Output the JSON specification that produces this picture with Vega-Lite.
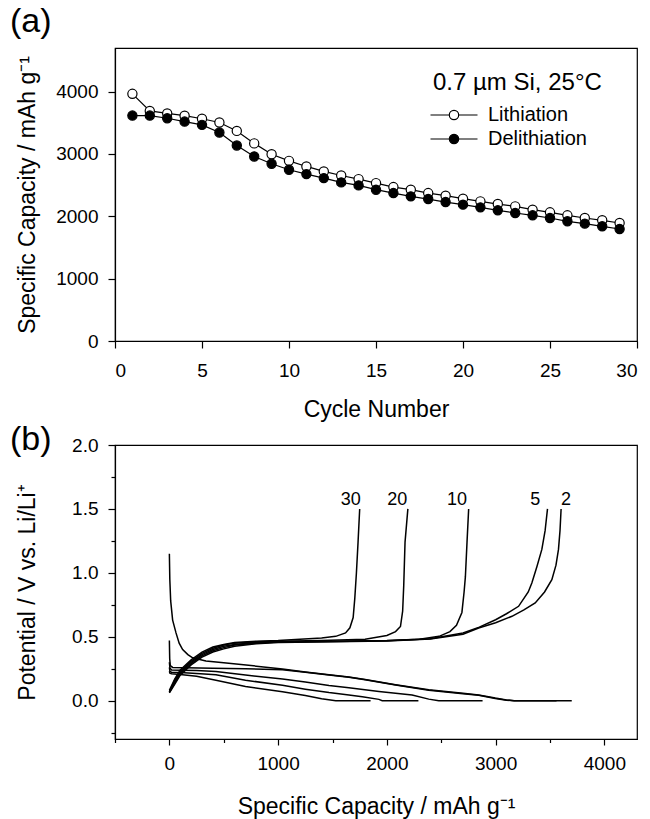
{
  "$schema": "https://vega.github.io/schema/vega-lite/v6.json",
  "padding": {"left": 9, "top": 4, "right": 5, "bottom": 0},
  "spacing": 0,
  "config": {
    "font": "Liberation Sans",
    "view": {"stroke": "black", "strokeWidth": 1.2},
    "axis": {"domainColor": "black", "domainWidth": 1.2, "tickColor": "black", "tickWidth": 1.2, "labelColor": "black", "titleColor": "black", "labelFontSize": 19, "titleFontSize": 23, "titleFontWeight": "normal", "grid": false, "labelFont": "Liberation Sans", "titleFont": "Liberation Sans"},
    "title": {"font": "Liberation Sans", "color": "black"}
  },
  "datasets": {
    "cycles": [
      {"cycle": 1, "series": "Lithiation", "cap": 3965}, {"cycle": 2, "series": "Lithiation", "cap": 3690}, {"cycle": 3, "series": "Lithiation", "cap": 3650}, {"cycle": 4, "series": "Lithiation", "cap": 3615}, {"cycle": 5, "series": "Lithiation", "cap": 3565}, {"cycle": 6, "series": "Lithiation", "cap": 3505}, {"cycle": 7, "series": "Lithiation", "cap": 3370}, {"cycle": 8, "series": "Lithiation", "cap": 3170}, {"cycle": 9, "series": "Lithiation", "cap": 2995}, {"cycle": 10, "series": "Lithiation", "cap": 2890}, {"cycle": 11, "series": "Lithiation", "cap": 2800}, {"cycle": 12, "series": "Lithiation", "cap": 2720}, {"cycle": 13, "series": "Lithiation", "cap": 2655}, {"cycle": 14, "series": "Lithiation", "cap": 2597}, {"cycle": 15, "series": "Lithiation", "cap": 2533}, {"cycle": 16, "series": "Lithiation", "cap": 2469}, {"cycle": 17, "series": "Lithiation", "cap": 2427}, {"cycle": 18, "series": "Lithiation", "cap": 2373}, {"cycle": 19, "series": "Lithiation", "cap": 2331}, {"cycle": 20, "series": "Lithiation", "cap": 2283}, {"cycle": 21, "series": "Lithiation", "cap": 2240}, {"cycle": 22, "series": "Lithiation", "cap": 2197}, {"cycle": 23, "series": "Lithiation", "cap": 2160}, {"cycle": 24, "series": "Lithiation", "cap": 2107}, {"cycle": 25, "series": "Lithiation", "cap": 2064}, {"cycle": 26, "series": "Lithiation", "cap": 2016}, {"cycle": 27, "series": "Lithiation", "cap": 1973}, {"cycle": 28, "series": "Lithiation", "cap": 1936}, {"cycle": 29, "series": "Lithiation", "cap": 1893},
      {"cycle": 1, "series": "Delithiation", "cap": 3616}, {"cycle": 2, "series": "Delithiation", "cap": 3616}, {"cycle": 3, "series": "Delithiation", "cap": 3573}, {"cycle": 4, "series": "Delithiation", "cap": 3520}, {"cycle": 5, "series": "Delithiation", "cap": 3467}, {"cycle": 6, "series": "Delithiation", "cap": 3344}, {"cycle": 7, "series": "Delithiation", "cap": 3136}, {"cycle": 8, "series": "Delithiation", "cap": 2960}, {"cycle": 9, "series": "Delithiation", "cap": 2843}, {"cycle": 10, "series": "Delithiation", "cap": 2747}, {"cycle": 11, "series": "Delithiation", "cap": 2677}, {"cycle": 12, "series": "Delithiation", "cap": 2613}, {"cycle": 13, "series": "Delithiation", "cap": 2544}, {"cycle": 14, "series": "Delithiation", "cap": 2496}, {"cycle": 15, "series": "Delithiation", "cap": 2427}, {"cycle": 16, "series": "Delithiation", "cap": 2373}, {"cycle": 17, "series": "Delithiation", "cap": 2320}, {"cycle": 18, "series": "Delithiation", "cap": 2277}, {"cycle": 19, "series": "Delithiation", "cap": 2229}, {"cycle": 20, "series": "Delithiation", "cap": 2187}, {"cycle": 21, "series": "Delithiation", "cap": 2144}, {"cycle": 22, "series": "Delithiation", "cap": 2096}, {"cycle": 23, "series": "Delithiation", "cap": 2053}, {"cycle": 24, "series": "Delithiation", "cap": 2016}, {"cycle": 25, "series": "Delithiation", "cap": 1973}, {"cycle": 26, "series": "Delithiation", "cap": 1920}, {"cycle": 27, "series": "Delithiation", "cap": 1883}, {"cycle": 28, "series": "Delithiation", "cap": 1840}, {"cycle": 29, "series": "Delithiation", "cap": 1797}
    ],
    "curves": [
      {"curve": "30 charge", "cap": 0, "v": 0.08}, {"curve": "30 charge", "cap": 50, "v": 0.17}, {"curve": "30 charge", "cap": 100, "v": 0.24}, {"curve": "30 charge", "cap": 200, "v": 0.32}, {"curve": "30 charge", "cap": 300, "v": 0.38}, {"curve": "30 charge", "cap": 400, "v": 0.42}, {"curve": "30 charge", "cap": 500, "v": 0.44}, {"curve": "30 charge", "cap": 600, "v": 0.455}, {"curve": "30 charge", "cap": 800, "v": 0.465}, {"curve": "30 charge", "cap": 1000, "v": 0.47}, {"curve": "30 charge", "cap": 1200, "v": 0.48}, {"curve": "30 charge", "cap": 1400, "v": 0.49}, {"curve": "30 charge", "cap": 1530, "v": 0.503}, {"curve": "30 charge", "cap": 1620, "v": 0.53}, {"curve": "30 charge", "cap": 1660, "v": 0.57}, {"curve": "30 charge", "cap": 1690, "v": 0.65}, {"curve": "30 charge", "cap": 1705, "v": 0.8}, {"curve": "30 charge", "cap": 1720, "v": 1.0}, {"curve": "30 charge", "cap": 1735, "v": 1.24}, {"curve": "30 charge", "cap": 1750, "v": 1.5},
      {"curve": "20 charge", "cap": 0, "v": 0.07}, {"curve": "20 charge", "cap": 50, "v": 0.16}, {"curve": "20 charge", "cap": 100, "v": 0.23}, {"curve": "20 charge", "cap": 200, "v": 0.31}, {"curve": "20 charge", "cap": 300, "v": 0.37}, {"curve": "20 charge", "cap": 400, "v": 0.41}, {"curve": "20 charge", "cap": 500, "v": 0.435}, {"curve": "20 charge", "cap": 600, "v": 0.45}, {"curve": "20 charge", "cap": 800, "v": 0.46}, {"curve": "20 charge", "cap": 1000, "v": 0.465}, {"curve": "20 charge", "cap": 1400, "v": 0.47}, {"curve": "20 charge", "cap": 1800, "v": 0.48}, {"curve": "20 charge", "cap": 2000, "v": 0.51}, {"curve": "20 charge", "cap": 2080, "v": 0.54}, {"curve": "20 charge", "cap": 2125, "v": 0.58}, {"curve": "20 charge", "cap": 2145, "v": 0.7}, {"curve": "20 charge", "cap": 2155, "v": 0.9}, {"curve": "20 charge", "cap": 2167, "v": 1.24}, {"curve": "20 charge", "cap": 2193, "v": 1.5},
      {"curve": "10 charge", "cap": 0, "v": 0.07}, {"curve": "10 charge", "cap": 50, "v": 0.15}, {"curve": "10 charge", "cap": 100, "v": 0.22}, {"curve": "10 charge", "cap": 200, "v": 0.3}, {"curve": "10 charge", "cap": 300, "v": 0.36}, {"curve": "10 charge", "cap": 400, "v": 0.4}, {"curve": "10 charge", "cap": 500, "v": 0.425}, {"curve": "10 charge", "cap": 600, "v": 0.44}, {"curve": "10 charge", "cap": 800, "v": 0.455}, {"curve": "10 charge", "cap": 1000, "v": 0.46}, {"curve": "10 charge", "cap": 1500, "v": 0.465}, {"curve": "10 charge", "cap": 2000, "v": 0.47}, {"curve": "10 charge", "cap": 2300, "v": 0.48}, {"curve": "10 charge", "cap": 2480, "v": 0.503}, {"curve": "10 charge", "cap": 2580, "v": 0.54}, {"curve": "10 charge", "cap": 2640, "v": 0.59}, {"curve": "10 charge", "cap": 2690, "v": 0.69}, {"curve": "10 charge", "cap": 2710, "v": 0.85}, {"curve": "10 charge", "cap": 2722, "v": 0.97}, {"curve": "10 charge", "cap": 2737, "v": 1.24}, {"curve": "10 charge", "cap": 2752, "v": 1.5},
      {"curve": "5 charge", "cap": 0, "v": 0.065}, {"curve": "5 charge", "cap": 50, "v": 0.14}, {"curve": "5 charge", "cap": 100, "v": 0.21}, {"curve": "5 charge", "cap": 200, "v": 0.29}, {"curve": "5 charge", "cap": 300, "v": 0.35}, {"curve": "5 charge", "cap": 400, "v": 0.39}, {"curve": "5 charge", "cap": 500, "v": 0.415}, {"curve": "5 charge", "cap": 600, "v": 0.435}, {"curve": "5 charge", "cap": 800, "v": 0.45}, {"curve": "5 charge", "cap": 1000, "v": 0.458}, {"curve": "5 charge", "cap": 1500, "v": 0.462}, {"curve": "5 charge", "cap": 2000, "v": 0.468}, {"curve": "5 charge", "cap": 2400, "v": 0.485}, {"curve": "5 charge", "cap": 2700, "v": 0.53}, {"curve": "5 charge", "cap": 2850, "v": 0.575}, {"curve": "5 charge", "cap": 3000, "v": 0.633}, {"curve": "5 charge", "cap": 3100, "v": 0.68}, {"curve": "5 charge", "cap": 3211, "v": 0.738}, {"curve": "5 charge", "cap": 3300, "v": 0.85}, {"curve": "5 charge", "cap": 3333, "v": 0.921}, {"curve": "5 charge", "cap": 3380, "v": 1.05}, {"curve": "5 charge", "cap": 3425, "v": 1.183}, {"curve": "5 charge", "cap": 3455, "v": 1.33}, {"curve": "5 charge", "cap": 3477, "v": 1.5},
      {"curve": "2 charge", "cap": 0, "v": 0.06}, {"curve": "2 charge", "cap": 50, "v": 0.13}, {"curve": "2 charge", "cap": 100, "v": 0.2}, {"curve": "2 charge", "cap": 200, "v": 0.28}, {"curve": "2 charge", "cap": 300, "v": 0.34}, {"curve": "2 charge", "cap": 400, "v": 0.38}, {"curve": "2 charge", "cap": 500, "v": 0.405}, {"curve": "2 charge", "cap": 600, "v": 0.425}, {"curve": "2 charge", "cap": 800, "v": 0.445}, {"curve": "2 charge", "cap": 1000, "v": 0.455}, {"curve": "2 charge", "cap": 1500, "v": 0.46}, {"curve": "2 charge", "cap": 2000, "v": 0.466}, {"curve": "2 charge", "cap": 2400, "v": 0.482}, {"curve": "2 charge", "cap": 2700, "v": 0.52}, {"curve": "2 charge", "cap": 2844, "v": 0.568}, {"curve": "2 charge", "cap": 3000, "v": 0.61}, {"curve": "2 charge", "cap": 3150, "v": 0.66}, {"curve": "2 charge", "cap": 3260, "v": 0.71}, {"curve": "2 charge", "cap": 3364, "v": 0.764}, {"curve": "2 charge", "cap": 3450, "v": 0.85}, {"curve": "2 charge", "cap": 3517, "v": 0.947}, {"curve": "2 charge", "cap": 3555, "v": 1.06}, {"curve": "2 charge", "cap": 3578, "v": 1.183}, {"curve": "2 charge", "cap": 3592, "v": 1.33}, {"curve": "2 charge", "cap": 3602, "v": 1.5},
      {"curve": "2 discharge", "cap": 0, "v": 1.15}, {"curve": "2 discharge", "cap": 4, "v": 0.95}, {"curve": "2 discharge", "cap": 12, "v": 0.78}, {"curve": "2 discharge", "cap": 30, "v": 0.63}, {"curve": "2 discharge", "cap": 61, "v": 0.53}, {"curve": "2 discharge", "cap": 90, "v": 0.45}, {"curve": "2 discharge", "cap": 122, "v": 0.4}, {"curve": "2 discharge", "cap": 170, "v": 0.36}, {"curve": "2 discharge", "cap": 214, "v": 0.335}, {"curve": "2 discharge", "cap": 336, "v": 0.31}, {"curve": "2 discharge", "cap": 500, "v": 0.297}, {"curve": "2 discharge", "cap": 800, "v": 0.27}, {"curve": "2 discharge", "cap": 1040, "v": 0.247}, {"curve": "2 discharge", "cap": 1250, "v": 0.225}, {"curve": "2 discharge", "cap": 1468, "v": 0.203}, {"curve": "2 discharge", "cap": 1651, "v": 0.185}, {"curve": "2 discharge", "cap": 1800, "v": 0.165}, {"curve": "2 discharge", "cap": 2080, "v": 0.125}, {"curve": "2 discharge", "cap": 2385, "v": 0.085}, {"curve": "2 discharge", "cap": 2700, "v": 0.057}, {"curve": "2 discharge", "cap": 2844, "v": 0.045}, {"curve": "2 discharge", "cap": 2997, "v": 0.02}, {"curve": "2 discharge", "cap": 3100, "v": 0.006}, {"curve": "2 discharge", "cap": 3170, "v": 0}, {"curve": "2 discharge", "cap": 3700, "v": 0},
      {"curve": "5 discharge", "cap": 0, "v": 0.47}, {"curve": "5 discharge", "cap": 3, "v": 0.33}, {"curve": "5 discharge", "cap": 8, "v": 0.275}, {"curve": "5 discharge", "cap": 30, "v": 0.26}, {"curve": "5 discharge", "cap": 150, "v": 0.257}, {"curve": "5 discharge", "cap": 400, "v": 0.253}, {"curve": "5 discharge", "cap": 700, "v": 0.25}, {"curve": "5 discharge", "cap": 1040, "v": 0.242}, {"curve": "5 discharge", "cap": 1250, "v": 0.222}, {"curve": "5 discharge", "cap": 1468, "v": 0.2}, {"curve": "5 discharge", "cap": 1651, "v": 0.183}, {"curve": "5 discharge", "cap": 1800, "v": 0.163}, {"curve": "5 discharge", "cap": 2080, "v": 0.122}, {"curve": "5 discharge", "cap": 2385, "v": 0.082}, {"curve": "5 discharge", "cap": 2700, "v": 0.054}, {"curve": "5 discharge", "cap": 2844, "v": 0.042}, {"curve": "5 discharge", "cap": 2997, "v": 0.017}, {"curve": "5 discharge", "cap": 3100, "v": 0.004}, {"curve": "5 discharge", "cap": 3170, "v": 0}, {"curve": "5 discharge", "cap": 3560, "v": 0},
      {"curve": "10 discharge", "cap": 0, "v": 0.3}, {"curve": "10 discharge", "cap": 5, "v": 0.255}, {"curve": "10 discharge", "cap": 20, "v": 0.24}, {"curve": "10 discharge", "cap": 100, "v": 0.238}, {"curve": "10 discharge", "cap": 250, "v": 0.235}, {"curve": "10 discharge", "cap": 428, "v": 0.228}, {"curve": "10 discharge", "cap": 700, "v": 0.2}, {"curve": "10 discharge", "cap": 1040, "v": 0.17}, {"curve": "10 discharge", "cap": 1250, "v": 0.145}, {"curve": "10 discharge", "cap": 1468, "v": 0.118}, {"curve": "10 discharge", "cap": 1651, "v": 0.1}, {"curve": "10 discharge", "cap": 1927, "v": 0.071}, {"curve": "10 discharge", "cap": 2232, "v": 0.044}, {"curve": "10 discharge", "cap": 2385, "v": 0.012}, {"curve": "10 discharge", "cap": 2477, "v": 0}, {"curve": "10 discharge", "cap": 2880, "v": 0},
      {"curve": "20 discharge", "cap": 0, "v": 0.26}, {"curve": "20 discharge", "cap": 5, "v": 0.23}, {"curve": "20 discharge", "cap": 20, "v": 0.222}, {"curve": "20 discharge", "cap": 100, "v": 0.22}, {"curve": "20 discharge", "cap": 250, "v": 0.213}, {"curve": "20 discharge", "cap": 428, "v": 0.202}, {"curve": "20 discharge", "cap": 700, "v": 0.16}, {"curve": "20 discharge", "cap": 1040, "v": 0.12}, {"curve": "20 discharge", "cap": 1250, "v": 0.09}, {"curve": "20 discharge", "cap": 1468, "v": 0.063}, {"curve": "20 discharge", "cap": 1651, "v": 0.045}, {"curve": "20 discharge", "cap": 1774, "v": 0.03}, {"curve": "20 discharge", "cap": 1927, "v": 0.01}, {"curve": "20 discharge", "cap": 1957, "v": 0}, {"curve": "20 discharge", "cap": 2290, "v": 0},
      {"curve": "30 discharge", "cap": 0, "v": 0.23}, {"curve": "30 discharge", "cap": 5, "v": 0.215}, {"curve": "30 discharge", "cap": 20, "v": 0.21}, {"curve": "30 discharge", "cap": 100, "v": 0.205}, {"curve": "30 discharge", "cap": 250, "v": 0.19}, {"curve": "30 discharge", "cap": 428, "v": 0.16}, {"curve": "30 discharge", "cap": 700, "v": 0.11}, {"curve": "30 discharge", "cap": 1040, "v": 0.07}, {"curve": "30 discharge", "cap": 1250, "v": 0.04}, {"curve": "30 discharge", "cap": 1400, "v": 0.015}, {"curve": "30 discharge", "cap": 1530, "v": 0}, {"curve": "30 discharge", "cap": 1850, "v": 0}
    ],
    "labels": [
      {"label": "30", "cap": 1667, "v": 1.573}, {"label": "20", "cap": 2095, "v": 1.573}, {"label": "10", "cap": 2645, "v": 1.573}, {"label": "5", "cap": 3364, "v": 1.573}, {"label": "2", "cap": 3648, "v": 1.573}
    ]
  },
  "vconcat": [
    {
      "width": 522,
      "height": 293,
      "title": {"text": "(a)", "anchor": "start", "frame": "group", "dx": -105, "fontSize": 34, "fontWeight": "normal", "offset": 9},
      "data": {"name": "cycles"},
      "layer": [
        {
          "mark": {"type": "line", "color": "black", "strokeWidth": 1.2},
          "encoding": {
            "x": {"field": "cycle", "type": "quantitative", "scale": {"domain": [0, 30], "nice": false},
                  "axis": {"values": [0, 5, 10, 15, 20, 25, 30], "tickSize": 7, "labelPadding": 13, "title": "Cycle Number", "titlePadding": 18}},
            "y": {"field": "cap", "type": "quantitative", "scale": {"domain": [0, 4700], "nice": false},
                  "axis": {"values": [0, 500, 1000, 1500, 2000, 2500, 3000, 3500, 4000, 4500], "format": "d",
                           "labelExpr": "datum.value % 1000 === 0 ? datum.label : ''",
                           "tickSize": {"condition": {"test": "datum.value % 1000 === 0", "value": 7}, "value": 4},
                           "labelPadding": 10, "title": "Specific Capacity / mAh g⁻¹", "titlePadding": 16}},
            "detail": {"field": "series"}
          }
        },
        {
          "mark": {"type": "point", "shape": "circle", "size": 85, "filled": true, "stroke": "black", "strokeWidth": 1.2, "opacity": 1},
          "encoding": {
            "x": {"field": "cycle", "type": "quantitative"},
            "y": {"field": "cap", "type": "quantitative"},
            "fill": {"field": "series", "type": "nominal", "scale": {"domain": ["Lithiation", "Delithiation"], "range": ["white", "black"]},
                     "legend": {"title": "0.7 µm Si, 25°C", "orient": "none", "legendX": 318, "legendY": 23,
                                "titleFontSize": 24, "titleFontWeight": "normal", "titleColor": "black", "titlePadding": 9,
                                "labelFontSize": 20, "labelColor": "black", "labelOffset": 23,
                                "symbolType": "M -2.35 0 L -0.47 0 M 0.47 0 L 2.35 0 M -0.47 0 A 0.47 0.47 0 1 0 0.47 0 A 0.47 0.47 0 1 0 -0.47 0",
                                "symbolSize": 400, "symbolOffset": 10, "symbolStrokeColor": "black", "symbolStrokeWidth": 1.2, "symbolOpacity": 1, "rowPadding": 3}}
          }
        }
      ]
    },
    {
      "width": 522,
      "height": 294,
      "title": {"text": "(b)", "anchor": "start", "frame": "group", "dx": -105, "fontSize": 34, "fontWeight": "normal", "offset": -21},
      "resolve": {"axis": {"y": "independent"}},
      "layer": [
        {
          "data": {"name": "curves"},
          "mark": {"type": "line", "color": "black", "strokeWidth": 1.5},
          "encoding": {
            "x": {"field": "cap", "type": "quantitative", "scale": {"domain": [-500, 4300], "nice": false},
                  "axis": {"values": [-500, 0, 500, 1000, 1500, 2000, 2500, 3000, 3500, 4000], "format": "d",
                           "labelExpr": "datum.value % 1000 === 0 ? datum.label : ''",
                           "tickSize": {"condition": {"test": "datum.value % 1000 === 0", "value": 6}, "value": 3.5},
                           "labelPadding": 9, "title": "Specific Capacity / mAh g⁻¹", "titlePadding": 22}},
            "y": {"field": "v", "type": "quantitative", "scale": {"domain": [-0.3, 2.0], "nice": false},
                  "axis": {"orient": "left", "values": [0, 0.5, 1.0, 1.5, 2.0], "format": ".1f", "tickSize": 7,
                           "labelPadding": 10, "title": "Potential / V vs. Li/Li⁺", "titlePadding": 32}},
            "detail": {"field": "curve"}
          }
        },
        {
          "data": {"name": "labels"},
          "mark": {"type": "text", "fontSize": 18, "color": "black", "baseline": "middle", "align": "center"},
          "encoding": {
            "x": {"field": "cap", "type": "quantitative"},
            "y": {"field": "v", "type": "quantitative",
                  "axis": {"orient": "left", "values": [-0.25, 0.25, 0.75, 1.25, 1.75], "labels": false, "domain": false, "title": null, "tickSize": 4}},
            "text": {"field": "label"}
          }
        }
      ]
    }
  ]
}
